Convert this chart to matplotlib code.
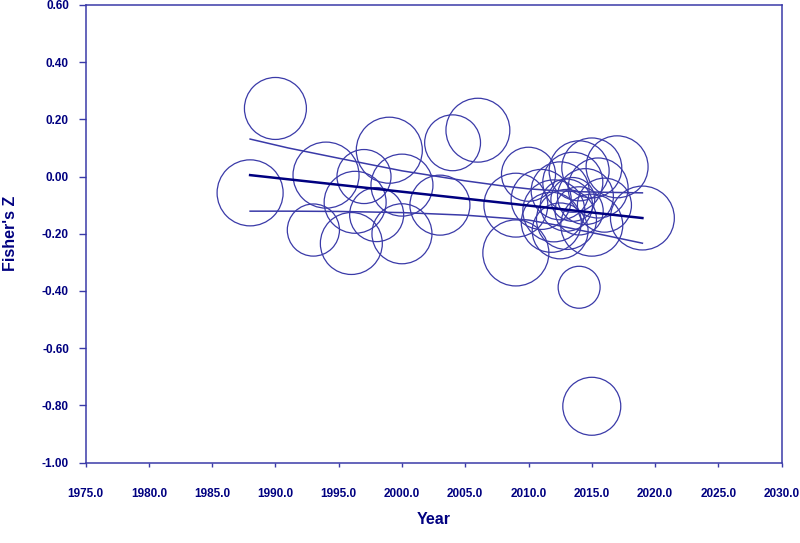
import numpy as np
import matplotlib.pyplot as plt

# study points: year, Fisher's Z, relative weight
years = [1988, 1990, 1994, 1993, 1996, 1996.3, 1997, 1998, 1999, 2000,
         2000, 2003, 2004, 2006, 2010, 2009, 2009, 2017, 2019, 2014,
         2015, 2011, 2011.8, 2012, 2012.5, 2013, 2013, 2013.5, 2014, 2014,
         2014.5, 2015, 2015, 2015.5, 2016, 2012.5, 2013.5]
fisher_z = [-0.057, 0.238, 0.005, -0.187, -0.234, -0.09, 0.0, -0.133, 0.092, -0.03,
            -0.20, -0.10, 0.118, 0.162, 0.008, -0.10, -0.267, 0.034, -0.145, -0.387,
            -0.803, -0.08, -0.16, -0.12, -0.05, -0.10, -0.15, -0.02, 0.02, -0.12,
            -0.07, 0.03, -0.17, -0.04, -0.10, -0.19, -0.08]
weights = [10.9, 9.6, 10.9, 6.8, 9.6, 9.6, 7.3, 7.3, 10.9, 9.6,
           9.0, 9.0, 7.8, 10.2, 7.3, 10.2, 10.9, 9.6, 10.2, 4.4,
           8.4, 9.0, 9.0, 9.6, 8.4, 6.8, 9.0, 9.0, 9.0, 5.8,
           7.8, 9.0, 9.6, 9.0, 7.3, 7.8, 4.8]

# fitted regression line and confidence limits
fit_years = [1988, 2019]
fit_z = [0.005, -0.145]
ci_years = [1988, 1991, 1995, 2000, 2005, 2008, 2010, 2012, 2014, 2016, 2019]
ci_upper = [0.131, 0.100, 0.064, 0.020, -0.015, -0.033, -0.043, -0.049, -0.053, -0.055, -0.057]
ci_lower = [-0.121, -0.121, -0.122, -0.126, -0.135, -0.145, -0.152, -0.168, -0.187, -0.205, -0.233]

xticks = np.arange(1975, 2031, 5)
yticks = np.round(np.arange(-1.0, 0.61, 0.2), 2) + 0.0

navy = '#000080'
blue = '#3a3aa8'

fig = plt.figure(figsize=(8, 5.43), dpi=100)
ax = fig.add_axes([0.107, 0.148, 0.870, 0.843])

# bubbles
ax.scatter(years, fisher_z, s=np.array(weights) * 207.36, facecolors='none',
           edgecolors=blue, linewidths=0.9, zorder=2)

ax.plot(ci_years, ci_upper, color=blue, lw=1.1, zorder=3)
ax.plot(ci_years, ci_lower, color=blue, lw=1.1, zorder=3)
ax.plot(fit_years, fit_z, color=navy, lw=1.8, zorder=4)

ax.set_xlim(1975, 2030)
ax.set_ylim(-1.0, 0.6)
ax.set_xticks(xticks)
ax.set_xticklabels(['%.1f' % x for x in xticks])
ax.set_yticks(yticks)
ax.set_yticklabels(['%.2f' % (y if abs(y) > 1e-9 else 0.0) for y in yticks])

font = dict(family='Liberation Sans', weight='bold', color=navy)
for lab in ax.get_xticklabels() + ax.get_yticklabels():
    lab.set_fontfamily('Liberation Sans')
    lab.set_fontweight('bold')
    lab.set_fontsize(8.5)
    lab.set_color(navy)

ax.tick_params(axis='y', direction='out', length=5, width=1, color=blue, pad=7)
ax.tick_params(axis='x', direction='out', length=3, width=1, color=blue, pad=15)

for sp in ax.spines.values():
    sp.set_color(blue)
    sp.set_linewidth(1.1)

ax.set_xlabel('Year', fontsize=11.5, labelpad=9, **font)
ax.set_ylabel("Fisher's Z", fontsize=11.5, labelpad=17, **font)

fig.savefig('out.png', dpi=100)
